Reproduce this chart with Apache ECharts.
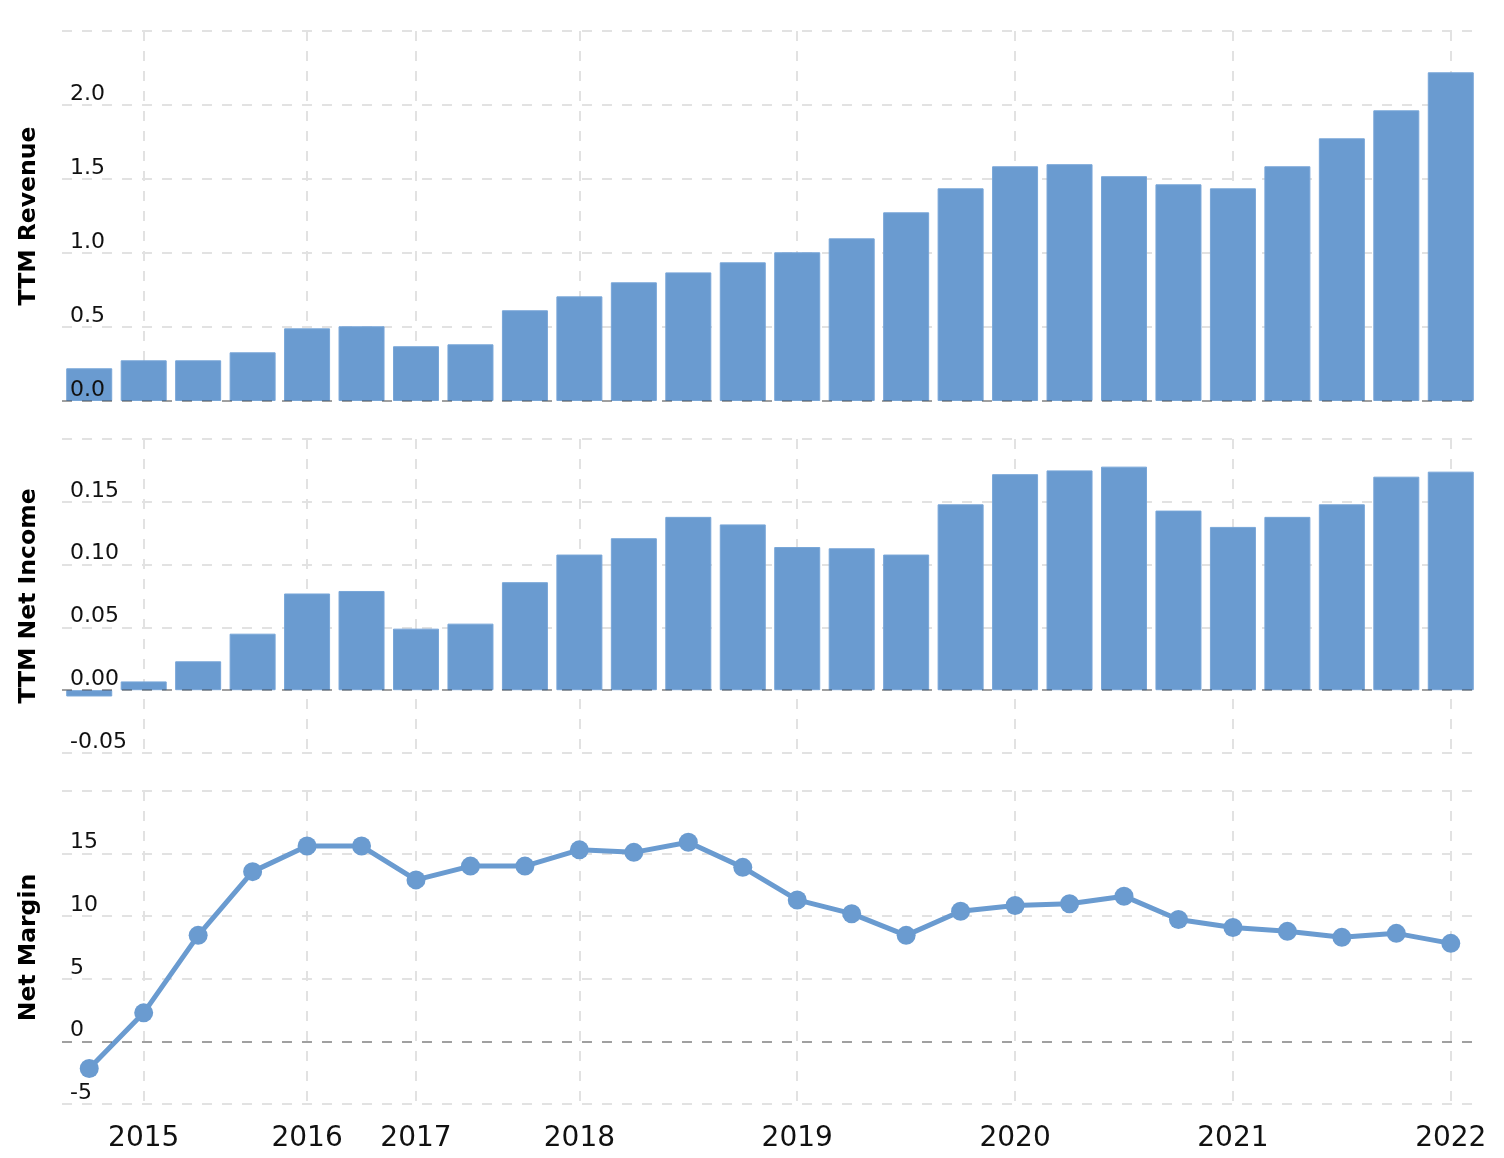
<!DOCTYPE html>
<html>
<head>
<meta charset="utf-8">
<script src="https://cdn.jsdelivr.net/npm/echarts@6/dist/echarts.min.js"></script>
<style>
html,body{margin:0;padding:0;background:#fff;}
#chart{width:1504px;height:1158px;}
</style>
</head>
<body>
<div id="chart"></div>
<script>
// ---- data ----
const dates = [
  '2014-12-31','2015-03-31','2015-06-30','2015-09-30','2016-03-31','2016-06-30',
  '2017-03-31','2017-06-30','2017-09-30','2018-03-31','2018-06-30','2018-09-30',
  '2018-12-31','2019-03-31','2019-06-30','2019-09-30','2019-12-31','2020-03-31',
  '2020-06-30','2020-09-30','2020-12-31','2021-03-31','2021-06-30','2021-09-30',
  '2021-12-31','2022-03-31'
];
const revenue = [0.221,0.275,0.275,0.329,0.491,0.505,0.370,0.383,0.613,0.707,0.802,0.869,0.937,1.005,1.099,1.275,1.437,1.586,1.600,1.519,1.464,1.437,1.586,1.775,1.964,2.221];
const netIncome = [-0.005,0.007,0.023,0.045,0.077,0.079,0.049,0.053,0.086,0.108,0.121,0.138,0.132,0.114,0.113,0.108,0.148,0.172,0.175,0.178,0.143,0.130,0.138,0.148,0.170,0.174];
const netMargin = [-2.17,2.28,8.47,13.56,15.6,15.6,12.9,14.0,14.0,15.3,15.1,15.9,13.9,11.3,10.2,8.47,10.4,10.85,11.0,11.6,9.74,9.1,8.79,8.31,8.63,7.83];

const panelNames = ['TTM Revenue','TTM Net Income','Net Margin'];
const yMin = [0, -0.05, -5];
const yMax = [2.5, 0.2, 20];
const yStep = [0.5, 0.05, 5];
const yDecimals = [1, 2, 0];

// ---- style ----
const FONT = 'DejaVu Sans';
const BLUE = '#6a9bd0';
const GRID_COLOR = '#e2e2e2';
const DASH = [10, 10];

function isYearStart(i){
  return i > 0 && dates[i].slice(0,4) !== dates[i-1].slice(0,4);
}

const grids = [
  {left:62, right:26, top:31, height:370, outerBoundsMode:'none', containLabel:false},
  {left:62, right:26, top:439, height:314, outerBoundsMode:'none', containLabel:false},
  {left:62, right:26, top:791, height:313, outerBoundsMode:'none', containLabel:false}
];

const xAxes = grids.map((g, k) => ({
  type:'category', gridIndex:k, data:dates, boundaryGap:true, position:'bottom',
  axisLine:{show:false}, axisTick:{show:false},
  axisLabel:{
    show:k===2, interval:(i)=>isYearStart(i), formatter:(v)=>v.slice(0,4),
    fontFamily:FONT, fontSize:28, color:'#111', margin:21, lineHeight:28
  },
  splitLine:{show:true, alignWithLabel:true, interval:(i)=>isYearStart(i),
    lineStyle:{color:GRID_COLOR, width:2, type:DASH}}
}));

const yAxes = [];
grids.forEach((g, k) => {
  // background grid axis
  yAxes.push({
    type:'value', gridIndex:k, position:'left', min:yMin[k], max:yMax[k], interval:yStep[k],
    axisLine:{show:false}, axisTick:{show:false}, axisLabel:{show:false},
    splitLine:{show:true, lineStyle:{color:GRID_COLOR, width:2, type:DASH}},
    z:0
  });
  // label axis (drawn above bars)
  yAxes.push({
    type:'value', gridIndex:k, position:'left', offset:0, min:yMin[k], max:yMax[k], interval:yStep[k],
    axisLine:{show:false}, axisTick:{show:false}, splitLine:{show:false},
    axisLabel:{inside:true, margin:8, showMaxLabel:false,
      formatter:(v)=>v.toFixed(yDecimals[k]),
      fontFamily:FONT, fontSize:22, color:'#111',
      verticalAlign:'bottom', lineHeight:22, padding:[0,0,0,0]},
    name:panelNames[k], nameLocation:'middle', nameGap:21,
    nameTextStyle:{fontFamily:FONT, fontWeight:'bold', fontSize:23.5, color:'#000'},
    z:3
  });
});

const zeroLine = {
  silent:true, symbol:'none', z:6,
  label:{show:false},
  lineStyle:{color:'rgba(0,0,0,0.29)', width:2, type:DASH},
  data:[{yAxis:0}]
};

const option = {
  animation:false,
  backgroundColor:'#fff',
  grid:grids,
  xAxis:xAxes,
  yAxis:yAxes,
  series:[
    {type:'bar', xAxisIndex:0, yAxisIndex:0, data:revenue, barWidth:46, z:2,
     itemStyle:{color:BLUE, borderColor:'#78a6d8', borderWidth:1}, markLine:zeroLine},
    {type:'bar', xAxisIndex:1, yAxisIndex:2, data:netIncome, barWidth:46, z:2,
     itemStyle:{color:BLUE, borderColor:'#78a6d8', borderWidth:1}, markLine:zeroLine},
    {type:'line', xAxisIndex:2, yAxisIndex:4, data:netMargin, z:2,
     symbol:'circle', symbolSize:19, showSymbol:true,
     lineStyle:{color:BLUE, width:5}, itemStyle:{color:BLUE}, markLine:zeroLine}
  ]
};

const chart = echarts.init(document.getElementById('chart'), null, {renderer:'canvas'});
chart.setOption(option);
</script>
</body>
</html>
